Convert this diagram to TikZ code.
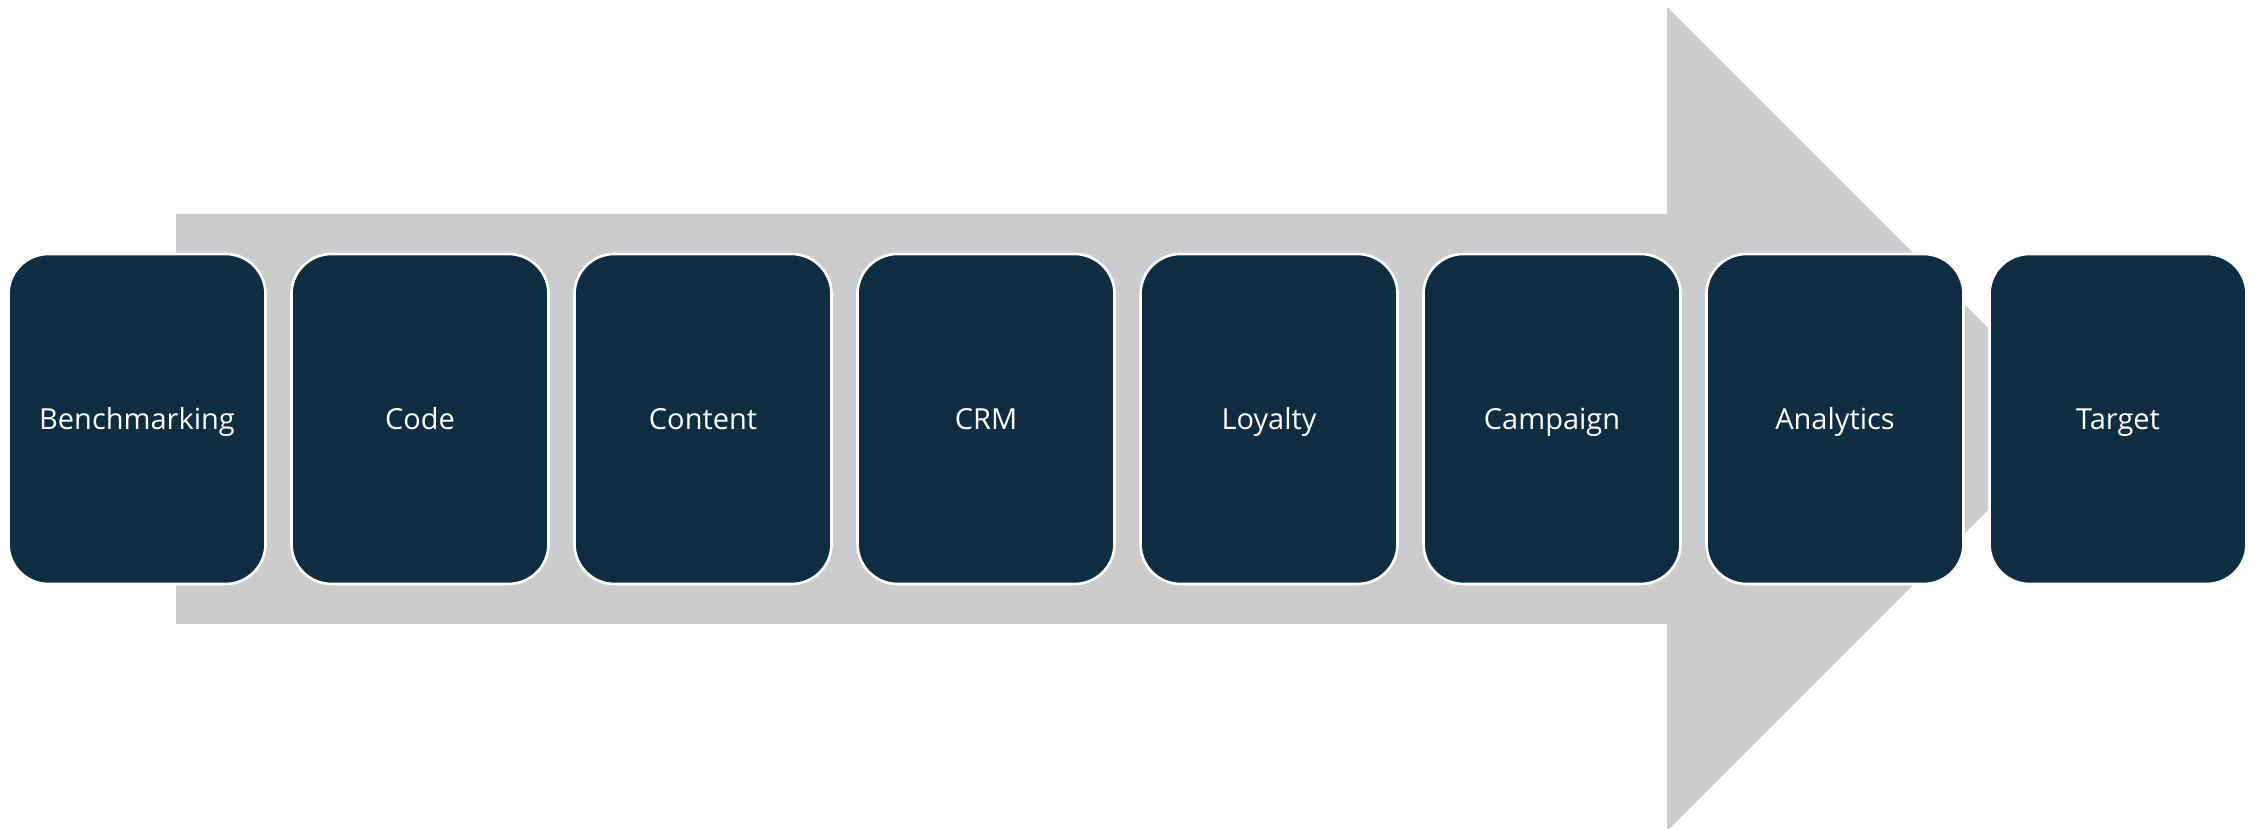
\documentclass[tikz,border=0pt]{standalone}
\usepackage{fontspec}
\setmainfont{Open Sans}
\usepackage{tikz}
\usetikzlibrary{positioning}
\definecolor{navy}{HTML}{0F2D40}
\definecolor{shaft}{HTML}{CBCCCE}
\tikzset{
  stage_n/.style = {rectangle, rounded corners=0.8cm, fill=navy, draw=white, line width=1.5pt, text=white, minimum width=5.14cm, minimum height=6.6cm, inner sep=0pt, outer sep=0pt, text height=12pt, text depth=0pt, font=\fontsize{16.5}{20}\selectfont},
  flow_a/.style = {fill=shaft, draw=none}
}
\begin{document}
\begin{tikzpicture}[node distance=0.52cm]
  \useasboundingbox (0,0) rectangle (45.1,16.58);
  % big arrow behind the stages
  \fill[flow_a] (3.52,4.1) -- (3.52,12.3) -- (33.34,12.3) -- (33.34,16.44)
      -- (41.58,8.2) -- (33.34,-0.04) -- (33.34,4.1) -- cycle;
  \node [stage_n] (bench) at (2.74,8.2) {Benchmarking};
  \node [stage_n, right=of bench] (code) {Code};
  \node [stage_n, right=of code] (content) {Content};
  \node [stage_n, right=of content] (crm) {CRM};
  \node [stage_n, right=of crm] (loyalty) {Loyalty};
  \node [stage_n, right=of loyalty] (campaign) {Campaign};
  \node [stage_n, right=of campaign] (analytics) {Analytics};
  \node [stage_n, right=of analytics] (target) {Target};
\end{tikzpicture}
\end{document}
